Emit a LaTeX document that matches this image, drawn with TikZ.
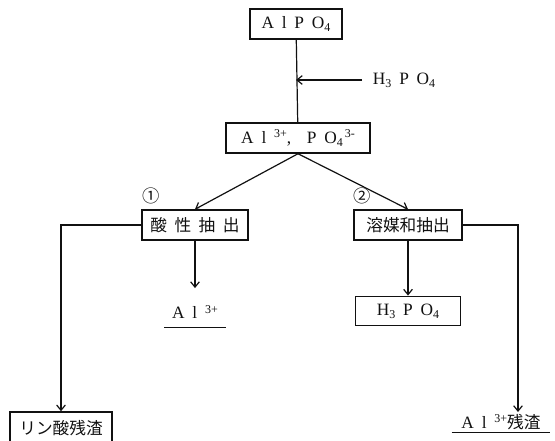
\documentclass[tikz,border=0pt]{standalone}
\usepackage{fontspec}
\setmainfont{Liberation Serif}
\newfontfamily\jpfont{Noto Sans CJK JP}
\usetikzlibrary{positioning, arrows.meta}
\definecolor{inkblack}{RGB}{17, 17, 17}
\newcommand{\lsub}[1]{\raisebox{-0.35ex}{\small #1}}
\newcommand{\lsup}[1]{\raisebox{0.7ex}{\small #1}}
\newcommand{\gap}{\hspace{0.45em}}
\tikzset{
  latin/.style={font=\fontsize{13}{15}\selectfont},
  flowbox/.style={draw=inkblack, line width=1.1pt, inner sep=2pt, latin},
  flowline/.style={draw=inkblack, line width=0.9pt},
  flowarrow/.style={flowline, -{Straight Barb[length=4pt, width=6.5pt]}},
  jptext/.style={font=\jpfont\fontsize{12.5}{14}\selectfont},
}

\begin{document}
\begin{tikzpicture}[x=0.75pt, y=-0.75pt, text=inkblack]
                \useasboundingbox (0,0) rectangle (555,441);
                % Start and dissolution
                \node[flowbox, minimum width=69pt, minimum height=22.5pt] (alpo) at (296,24) {A\gap l\gap P\gap O\lsub{4}};
                \node[flowbox, minimum width=108pt, minimum height=22.5pt] (ions) at (298,138) {A\gap l\gap\lsup{3+},\gap\gap P\gap O\lsub{4}\lsup{\,3-}};
                \draw[flowline] (alpo) -- (ions);
                \coordinate (feed) at (296,80);
                \node[anchor=west, inner xsep=8pt, latin] (acidin) at (362,80) {H\lsub{3}\gap P\gap O\lsub{4}};
                \draw[flowarrow] (acidin.west) -- (feed);
                
                % Two routes
                \node[flowbox, jptext, minimum width=79.5pt, minimum height=22.5pt] (acidx) at (195,225) {酸\gap 性\gap 抽\gap 出};
                \node[flowbox, jptext, minimum width=81pt, minimum height=22.5pt] (solvx) at (408,225) {溶媒和抽出};
                \draw[flowarrow] (ions.south) -- (acidx.north);
                \draw[flowarrow] (ions.south) -- (solvx.north);
                \node[font=\jpfont\fontsize{13}{15}\selectfont] (one) at (151,196) {①};
                \node[font=\jpfont\fontsize{13}{15}\selectfont] (two) at (362,196) {②};
                
                % Products
                \node[minimum width=46pt, minimum height=22.5pt, latin] (alion) at (195,312) {A\gap l\gap\lsup{3+}};
                \draw[flowline] (alion.south west) -- (alion.south east);
                \draw[flowarrow, shorten >=6.5pt] (acidx.south) -- (alion.north);
                \node[flowbox, minimum width=79pt, minimum height=22pt] (hpo) at (408,311) {H\lsub{3}\gap P\gap O\lsub{4}};
                \draw[flowarrow] (solvx.south) -- (hpo.north);
                
                % Residues
                \node[flowbox, jptext, minimum width=76.5pt, minimum height=24pt] (resp) at (61,428) {リン酸残渣};
                \draw[flowarrow] (acidx.west) -| (resp.north);
                \node[minimum width=73.5pt, minimum height=15pt, inner sep=0pt, latin] (resal) at (501,422) {A\gap l\gap\lsup{3+}{\jpfont\fontsize{12.5}{14}\selectfont 残渣}};
                \draw[flowline] (resal.south west) -- (resal.south east);
                \coordinate (resalin) at (518,412);
                \draw[flowarrow] (solvx.east) -| (resalin);
            \end{tikzpicture}
\end{document}
